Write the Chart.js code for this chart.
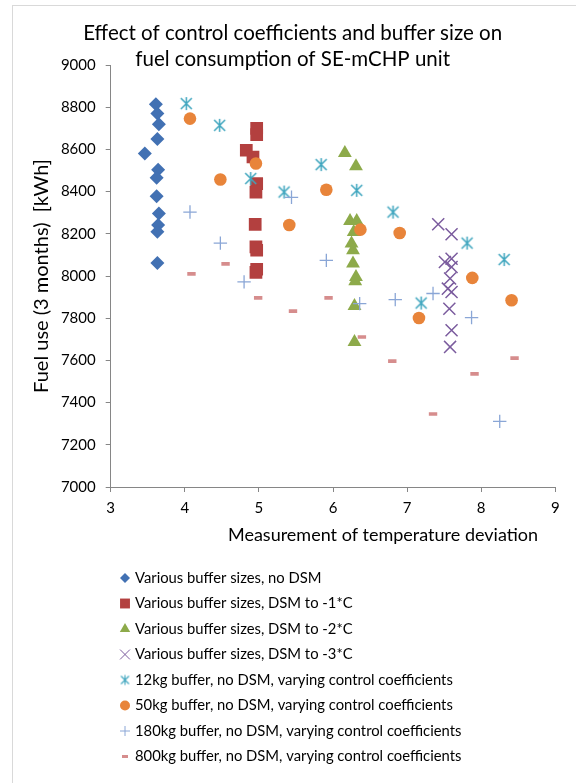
<!DOCTYPE html>
<html>
<head>
<meta charset="utf-8">
<script src="https://cdn.jsdelivr.net/npm/chart.js@4.4.1/dist/chart.umd.min.js"></script>
<style>
  html, body { margin: 0; padding: 0; background: #fff; }
  #wrap { position: relative; width: 576px; height: 783px; overflow: hidden; }
  #frame { position: absolute; left: 12px; top: 5px; right: -10px; bottom: -10px;
           border-left: 1px solid #d9d9d9; border-top: 1px solid #d9d9d9; }
  canvas { position: absolute; left: 0; top: 0; }
</style>
</head>
<body>
<div id="wrap">
  <div id="frame"></div>
  <canvas id="chart" width="576" height="783"></canvas>
</div>
<script>
// Data
const seriesLabels = [
  "Various buffer sizes, no DSM",
  "Various buffer sizes, DSM to -1*C",
  "Various buffer sizes, DSM to -2*C",
  "Various buffer sizes, DSM to -3*C",
  "12kg buffer, no DSM, varying control coefficients",
  "50kg buffer, no DSM, varying control coefficients",
  "180kg buffer, no DSM, varying control coefficients",
  "800kg buffer, no DSM, varying control coefficients"
];

const diamondX = [3.61, 3.63, 3.65, 3.63, 3.46, 3.64, 3.62, 3.62, 3.65, 3.64, 3.63, 3.63];
const diamondY = [8814, 8770, 8719, 8649, 8580, 8504, 8466, 8378, 8296, 8242, 8210, 8062];

const squareX = [4.97, 4.97, 4.83, 4.92, 4.97, 4.96, 4.95, 4.96, 4.97, 4.97, 4.96];
const squareY = [8700, 8670, 8596, 8564, 8438, 8397, 8245, 8138, 8122, 8032, 8017];

const triangleX = [6.16, 6.31, 6.23, 6.32, 6.28, 6.25, 6.27, 6.27, 6.31, 6.30, 6.29, 6.29];
const triangleY = [8583, 8520, 8261, 8261, 8209, 8154, 8122, 8059, 7995, 7975, 7858, 7687];

const crossX = [7.42, 7.60, 7.51, 7.60, 7.60, 7.58, 7.55, 7.60, 7.57, 7.60, 7.58];
const crossY = [8245, 8198, 8066, 8082, 8043, 7988, 7940, 7924, 7845, 7743, 7664];

const starX = [4.02, 4.47, 4.89, 5.34, 5.84, 6.32, 6.81, 7.19, 7.81, 8.31];
const starY = [8817, 8714, 8462, 8398, 8528, 8406, 8303, 7872, 8156, 8078];

const circleX = [4.07, 4.48, 4.96, 5.41, 5.91, 6.37, 6.90, 7.16, 7.88, 8.41];
const circleY = [8746, 8457, 8533, 8242, 8409, 8220, 8204, 7801, 7991, 7885];

const plusX = [4.07, 4.48, 4.80, 5.44, 5.91, 6.36, 6.84, 7.35, 7.87, 8.25];
const plusY = [8303, 8156, 7972, 8373, 8074, 7869, 7888, 7917, 7803, 7311];

const dashX = [4.09, 4.55, 4.99, 5.46, 5.94, 6.39, 6.80, 7.35, 7.91, 8.45];
const dashY = [8010, 8057, 7896, 7834, 7896, 7711, 7597, 7346, 7536, 7611];

const FONT = "Lato, 'Open Sans', sans-serif";

const toPoints = (xs, ys) => xs.map((x, i) => ({ x, y: ys[i] }));

// Excel style asterisk: an X plus a vertical bar
function makeAsterisk(size, arm, color, lw) {
  const c = document.createElement("canvas");
  c.width = size;
  c.height = size;
  const g = c.getContext("2d");
  const m = size / 2;
  g.strokeStyle = color;
  g.lineWidth = lw;
  g.beginPath();
  g.moveTo(m - arm, m - arm); g.lineTo(m + arm, m + arm);
  g.moveTo(m + arm, m - arm); g.lineTo(m - arm, m + arm);
  g.moveTo(m, m - arm - 1); g.lineTo(m, m + arm + 1);
  g.stroke();
  return c;
}

const teal = "#3ea5be";
const starBig = makeAsterisk(17, 5.5, teal, 1.5);
const starSmall = makeAsterisk(13, 4, teal, 1.1);

const datasets = [
  { data: toPoints(diamondX, diamondY), color: "#4271b3", style: "rectRot", r: 7, bw: 0, lr: 5, lbw: 0 },
  { data: toPoints(squareX, squareY), color: "#b3403f", style: "rect", r: 9, bw: 0, lr: 7, lbw: 0 },
  { data: toPoints(triangleX, triangleY), color: "#8daa4a", style: "triangle", r: 8, bw: 0, lr: 6, lbw: 0 },
  { data: toPoints(crossX, crossY), color: "#7b5c9e", style: "crossRot", r: 8.5, bw: 1.5, lr: 7, lbw: 1 },
  { data: toPoints(starX, starY), color: teal, style: starBig, r: 7, bw: 0, lr: 5, lbw: 0, legendImg: starSmall },
  { data: toPoints(circleX, circleY), color: "#e8843a", style: "circle", r: 6.3, bw: 0, lr: 5, lbw: 0 },
  { data: toPoints(plusX, plusY), color: "#8aa6d6", style: "cross", r: 6.7, bw: 1.3, lr: 5, lbw: 1 },
  { data: toPoints(dashX, dashY), color: "#d68d8d", style: "line", r: 4.2, bw: 3.7, lr: 3, lbw: 3 }
].map((s, i) => ({
  label: seriesLabels[i],
  data: s.data,
  order: 8 - i,
  backgroundColor: s.color,
  borderColor: s.color,
  pointStyle: s.style,
  pointRadius: s.r,
  pointHoverRadius: s.r,
  pointBorderWidth: s.bw,
  legendStyle: s.legendImg || s.style,
  legendRadius: s.lr,
  legendLineWidth: s.lbw
}));

// one-column legend under the plot, plus the x axis title
const sideStuff = {
  id: "sideStuff",
  afterDraw(chart) {
    const ctx = chart.ctx;
    ctx.save();
    chart.data.datasets.forEach((ds, i) => {
      const y = 578 + i * 25.5;
      ctx.fillStyle = ds.backgroundColor;
      ctx.strokeStyle = ds.borderColor;
      ctx.lineWidth = ds.legendLineWidth;
      Chart.helpers.drawPoint(ctx, {
        pointStyle: ds.legendStyle,
        radius: ds.legendRadius,
        rotation: 0,
        borderWidth: ds.legendLineWidth
      }, 125, y);
      ctx.fillStyle = "#000";
      ctx.font = "14.8px " + FONT;
      ctx.textAlign = "left";
      ctx.textBaseline = "middle";
      ctx.fillText(ds.label, 135, y);
    });
    ctx.font = "18px " + FONT;
    ctx.textAlign = "center";
    ctx.fillText("Measurement of temperature deviation", 383, 535);
    ctx.restore();
  }
};

const axisGrey = "#868686";

new Chart(document.getElementById("chart"), {
  type: "scatter",
  data: { datasets },
  options: {
    responsive: false,
    animation: false,
    layout: { padding: { left: 30, right: 20.7, top: 0, bottom: 236 } },
    plugins: {
      legend: { display: false },
      tooltip: { enabled: false },
      title: {
        display: true,
        text: ["Effect of control coefficients and buffer size on", "fuel consumption of SE-mCHP unit"],
        color: "#000",
        font: { family: FONT, size: 20.5, weight: "normal", lineHeight: 26 / 20.5 },
        padding: { top: 20, bottom: -7 }
      }
    },
    scales: {
      x: {
        type: "linear",
        min: 3,
        max: 9,
        ticks: { stepSize: 1, color: "#000", padding: 7, font: { family: FONT, size: 15 } },
        grid: { drawOnChartArea: false, drawTicks: true, tickLength: 5, color: axisGrey },
        border: { color: axisGrey },
        afterFit: (scale) => { scale.height = 60; }
      },
      y: {
        type: "linear",
        min: 7000,
        max: 9000,
        ticks: {
          stepSize: 200,
          color: "#000",
          padding: 10,
          font: { family: FONT, size: 15 },
          callback: (v) => String(v)
        },
        grid: { drawOnChartArea: false, drawTicks: true, tickLength: 5, color: axisGrey },
        border: { color: axisGrey },
        title: {
          display: true,
          text: "Fuel use (3 months)  [kWh]",
          color: "#000",
          font: { family: FONT, size: 20 },
          padding: { top: 0, bottom: 0 }
        },
        afterFit: (scale) => { scale.width = 80.7; }
      }
    }
  },
  plugins: [sideStuff]
});
</script>
</body>
</html>
